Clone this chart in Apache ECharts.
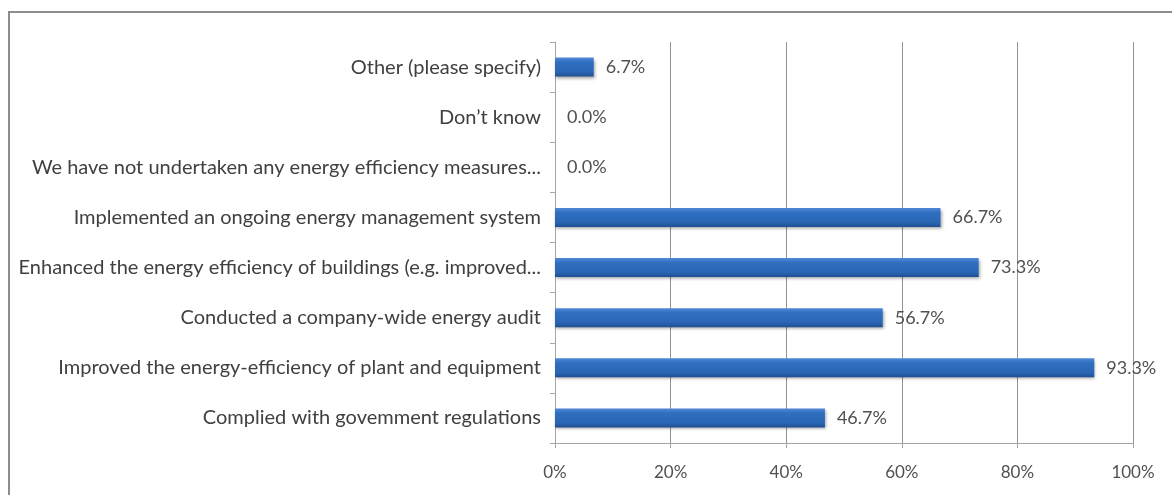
<!DOCTYPE html>
<html>
<head>
<meta charset="utf-8">
<script src="https://cdn.jsdelivr.net/npm/echarts@6/dist/echarts.min.js"></script>
<style>
html,body{margin:0;padding:0;background:#fff;}
#chart{width:1172px;height:495px;}
</style>
</head>
<body>
<div id="chart"></div>
<script>
var categories = [
  "Complied with govemment regulations",
  "Improved the energy-efficiency of plant and equipment",
  "Conducted a company-wide energy audit",
  "Enhanced the energy efficiency of buildings (e.g. improved...",
  "Implemented an ongoing energy management system",
  "We have not undertaken any energy efficiency measures...",
  "Don\u2019t know",
  "Other (please specify)"
];
var values = [46.7, 93.3, 56.7, 73.3, 66.7, 0.0, 0.0, 6.7];
var xTicks = [0, 20, 40, 60, 80, 100];

var chart = echarts.init(document.getElementById('chart'));
var font = 'Lato';
chart.setOption({
  animation: false,
  backgroundColor: '#ffffff',
  graphic: [{
    type: 'rect',
    shape: { x: 9, y: 12, width: 1200, height: 520 },
    style: { fill: 'none', stroke: '#8c8c8c', lineWidth: 2 },
    silent: true
  }],
  grid: { left: 555, right: 39, top: 42, bottom: 52, containLabel: false },
  xAxis: {
    type: 'value',
    min: xTicks[0],
    max: xTicks[xTicks.length - 1],
    interval: 20,
    axisLine: { show: true, lineStyle: { color: '#a6a6a6', width: 1 } },
    axisTick: { show: true, length: 5, lineStyle: { color: '#a6a6a6' } },
    splitLine: { show: true, lineStyle: { color: '#939393', width: 1 } },
    axisLabel: {
      formatter: function (v) { return v + '%'; },
      color: '#505050', fontFamily: font, fontSize: 17, margin: 21
    }
  },
  yAxis: {
    type: 'category',
    data: categories,
    axisLine: { show: true, lineStyle: { color: '#a6a6a6', width: 1 } },
    axisTick: { show: true, length: 5, lineStyle: { color: '#a6a6a6' } },
    axisLabel: { color: '#404040', fontFamily: font, fontSize: 20, margin: 14 }
  },
  series: [{
    type: 'bar',
    data: values,
    barWidth: 19,
    itemStyle: {
      color: new echarts.graphic.LinearGradient(0, 0, 0, 1, [
        { offset: 0, color: '#5089d6' },
        { offset: 0.25, color: '#2f6ec0' },
        { offset: 0.75, color: '#2a66b4' },
        { offset: 1, color: '#1f4f91' }
      ]),
      shadowColor: 'rgba(0,0,0,0.35)', shadowBlur: 3, shadowOffsetY: 2, shadowOffsetX: 1
    },
    label: {
      show: true,
      position: 'right',
      distance: 12,
      color: '#505050',
      fontFamily: font,
      fontSize: 18,
      formatter: function (p) { return p.value.toFixed(1) + '%'; }
    }
  }]
});
</script>
</body>
</html>
